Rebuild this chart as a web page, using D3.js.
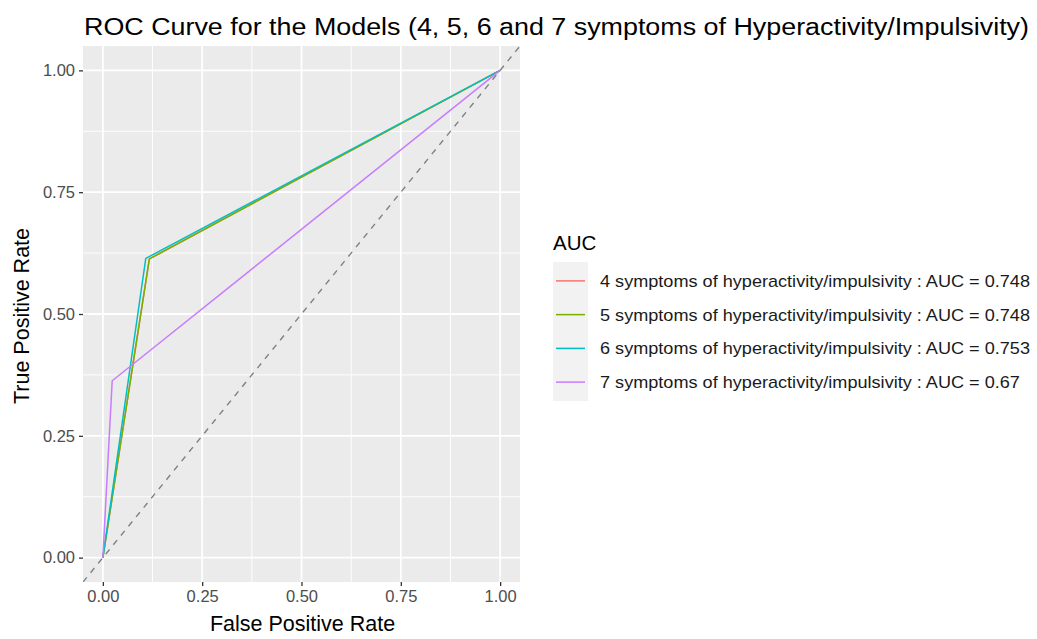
<!DOCTYPE html>
<html>
<head>
<meta charset="utf-8">
<script src="https://cdn.jsdelivr.net/npm/d3@7"></script>
<style>
  body { margin: 0; background: #fff; }
  text { font-family: "Liberation Sans", Arial, sans-serif; }
</style>
</head>
<body>
<svg width="1037" height="639"></svg>
<script>
// ROC points per model (false positive rate, true positive rate)
var models = ['4 symptoms of hyperactivity/impulsivity', '5 symptoms of hyperactivity/impulsivity',
              '6 symptoms of hyperactivity/impulsivity', '7 symptoms of hyperactivity/impulsivity'];
var aucs = ['0.748', '0.748', '0.753', '0.67'];
var fpr4 = [0, 0.117, 1], tpr4 = [0, 0.613, 1];
var fpr5 = [0, 0.117, 1], tpr5 = [0, 0.613, 1];
var fpr6 = [0, 0.108, 1], tpr6 = [0, 0.614, 1];
var fpr7 = [0, 0.0235, 1], tpr7 = [0, 0.363, 1];
var colors = ['#F8766D', '#7CAE00', '#00BFC4', '#C77CFF'];
var ticks = [0, 0.25, 0.5, 0.75, 1];

var fprs = [fpr4, fpr5, fpr6, fpr7], tprs = [tpr4, tpr5, tpr6, tpr7];
var series = models.map(function(m, i){
  return { name: m, auc: aucs[i], color: colors[i],
           pts: fprs[i].map(function(f, j){ return [f, tprs[i][j]]; }) };
});

var svg = d3.select('svg');
var panel = { left: 83, right: 520, top: 46, bottom: 582 };

var x = d3.scaleLinear().domain([-0.05, 1.05]).range([panel.left, panel.right]);
var y = d3.scaleLinear().domain([-0.05, 1.05]).range([panel.bottom, panel.top]);

// panel background
svg.append('rect')
  .attr('x', panel.left).attr('y', panel.top)
  .attr('width', panel.right - panel.left).attr('height', panel.bottom - panel.top)
  .attr('fill', '#EBEBEB');

var minor = [0.125, 0.375, 0.625, 0.875];
var grid = svg.append('g');
minor.forEach(function(v){
  grid.append('line').attr('x1', x(v)).attr('x2', x(v)).attr('y1', panel.top).attr('y2', panel.bottom)
    .attr('stroke', '#fff').attr('stroke-width', 0.9);
  grid.append('line').attr('y1', y(v)).attr('y2', y(v)).attr('x1', panel.left).attr('x2', panel.right)
    .attr('stroke', '#fff').attr('stroke-width', 0.9);
});
ticks.forEach(function(v){
  grid.append('line').attr('x1', x(v)).attr('x2', x(v)).attr('y1', panel.top).attr('y2', panel.bottom)
    .attr('stroke', '#fff').attr('stroke-width', 1.8);
  grid.append('line').attr('y1', y(v)).attr('y2', y(v)).attr('x1', panel.left).attr('x2', panel.right)
    .attr('stroke', '#fff').attr('stroke-width', 1.8);
});

// clip for the panel
svg.append('clipPath').attr('id', 'clip').append('rect')
  .attr('x', panel.left).attr('y', panel.top)
  .attr('width', panel.right - panel.left).attr('height', panel.bottom - panel.top);

var plot = svg.append('g').attr('clip-path', 'url(#clip)');

// diagonal reference line
plot.append('line')
  .attr('x1', x(-0.05)).attr('y1', y(-0.05)).attr('x2', x(1.05)).attr('y2', y(1.05))
  .attr('stroke', '#808080').attr('stroke-width', 1.4).attr('stroke-dasharray', '6,6');

var line = d3.line().x(function(d){ return x(d[0]); }).y(function(d){ return y(d[1]); });

plot.selectAll('path.roc')
  .data(series)
  .enter()
  .append('path')
    .attr('class', 'roc')
    .attr('d', function(d){ return line(d.pts); })
    .attr('fill', 'none')
    .attr('stroke', function(d){ return d.color; })
    .attr('stroke-width', 1.5);

// axes
var fmt = d3.format('.2f');
var xAxis = svg.append('g').attr('transform', 'translate(0,' + panel.bottom + ')')
  .call(d3.axisBottom(x).tickValues(ticks).tickFormat(fmt).tickSize(4).tickPadding(4));
var yAxis = svg.append('g').attr('transform', 'translate(' + panel.left + ',0)')
  .call(d3.axisLeft(y).tickValues(ticks).tickFormat(fmt).tickSize(4).tickPadding(4));
[xAxis, yAxis].forEach(function(a){
  a.select('.domain').remove();
  a.selectAll('.tick line').attr('stroke', '#333').attr('stroke-width', 1.3);
  a.selectAll('.tick text').attr('fill', '#4D4D4D').style('font-size', '16.5px')
    .style('font-family', '"Liberation Sans", Arial, sans-serif');
});

// titles
svg.append('text')
  .attr('x', 84).attr('y', 35)
  .attr('textLength', 945).attr('lengthAdjust', 'spacingAndGlyphs')
  .style('font-size', '23px').attr('fill', '#000')
  .text('ROC Curve for the Models (4, 5, 6 and 7 symptoms of Hyperactivity/Impulsivity)');

svg.append('text')
  .attr('x', (panel.left + panel.right) / 2 + 1).attr('y', 631)
  .attr('text-anchor', 'middle').style('font-size', '21.5px').attr('fill', '#000')
  .text('False Positive Rate');

svg.append('text')
  .attr('transform', 'translate(29,' + ((panel.top + panel.bottom) / 2 + 2) + ') rotate(-90)')
  .attr('text-anchor', 'middle').style('font-size', '21.5px').attr('fill', '#000')
  .text('True Positive Rate');

// legend
var legend = svg.append('g').attr('transform', 'translate(553,0)');
legend.append('text').attr('x', 0).attr('y', 250)
  .style('font-size', '20.5px').attr('fill', '#000').text('AUC');

legend.append('rect').attr('x', 0).attr('y', 262).attr('width', 35).attr('height', 139)
  .attr('fill', '#F2F2F2');

var rowY = d3.scaleBand().domain(models).range([264, 399]);

var rows = legend.selectAll('g.row')
  .data(series)
  .enter()
  .append('g')
    .attr('class', 'row')
    .attr('transform', function(d){ return 'translate(0,' + (rowY(d.name) + rowY.bandwidth() / 2) + ')'; });

rows.append('line')
  .attr('x1', 3).attr('x2', 32).attr('y1', 0).attr('y2', 0)
  .attr('stroke', function(d){ return d.color; }).attr('stroke-width', 1.5);

var labels = rows.append('text')
  .attr('x', 47).attr('y', 6)
  .style('font-size', '17px').attr('fill', '#1a1a1a')
  .text(function(d){ return d.name + ' : AUC = ' + d.auc; });

// stretch labels a little so the longest one spans the same width as in the original
var w0 = labels.node().getComputedTextLength();
var k = 430 / w0;
labels.each(function(){
  var t = d3.select(this);
  t.attr('textLength', this.getComputedTextLength() * k).attr('lengthAdjust', 'spacingAndGlyphs');
});
</script>
</body>
</html>
